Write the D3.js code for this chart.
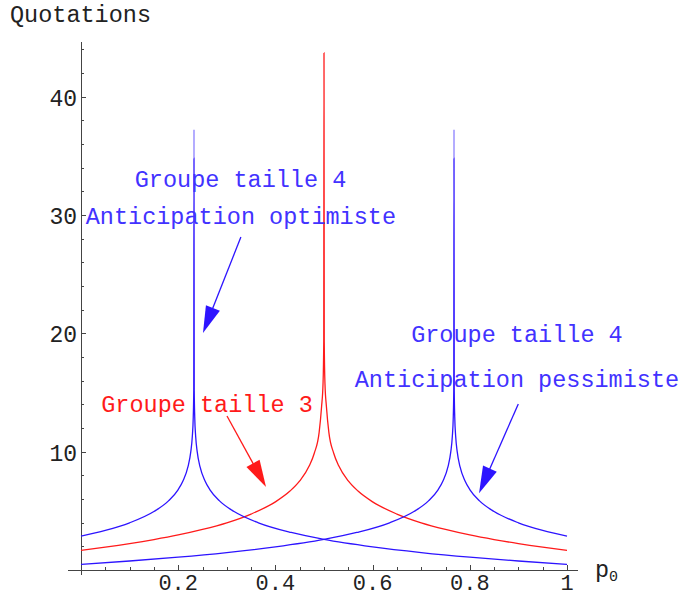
<!DOCTYPE html>
<html><head><meta charset="utf-8">
<script src="https://cdn.jsdelivr.net/npm/d3@7"></script>
<style>html,body{margin:0;padding:0;background:#fff;}svg{display:block;}</style>
</head><body>
<script>
// ---- data ----
const redP = [0,0.05,0.1,0.15,0.2,0.25,0.3,0.35,0.4,0.43,0.45,0.47,0.48,0.49,0.495,0.498,0.4995,0.5,0.5005,0.502,0.505,0.51,0.52,0.53,0.55,0.57,0.6,0.65,0.7,0.75,0.8,0.85,0.9,0.95,1];
const redQ = [1.66,1.93,2.23,2.57,2.96,3.43,3.99,4.73,5.76,6.67,7.53,8.83,9.87,11.63,13.8,15.74,19.3,43.7,19.3,15.74,13.8,11.63,9.87,8.83,7.53,6.67,5.76,4.73,3.99,3.43,2.96,2.57,2.23,1.93,1.66];

const optP = [0,0.05,0.1,0.15,0.18,0.2,0.21,0.22,0.226,0.229,0.231,0.232,0.2325,0.233,0.234,0.236,0.239,0.245,0.255,0.265,0.285,0.315,0.365,0.4325,0.5,0.6,0.7,0.8,0.9,1];
const optQ = [2.87,3.35,3.99,4.94,5.84,6.80,7.54,8.71,10.02,11.26,12.95,15.15,34.8,15.15,12.95,11.26,10.02,8.71,7.54,6.80,5.84,4.94,3.99,3.17,2.58,1.95,1.47,1.08,0.76,0.48];

const pesP = [0,0.1,0.2,0.3,0.4,0.5,0.5675,0.635,0.685,0.715,0.735,0.745,0.755,0.761,0.764,0.766,0.767,0.7675,0.768,0.769,0.771,0.774,0.78,0.79,0.8,0.82,0.85,0.9,0.95,1];
const pesQ = [0.48,0.76,1.08,1.47,1.95,2.58,3.17,3.99,4.94,5.84,6.80,7.54,8.71,10.02,11.26,12.95,15.15,34.8,15.15,12.95,11.26,10.02,8.71,7.54,6.80,5.84,4.94,3.99,3.35,2.87];

// light tips of the blue spikes
const tipP = [0.2325, 0.7675];
const tipFrom = [34.8, 34.8];
const tipTo = [37.2, 37.2];

const xMajor = [0.2,0.4,0.6,0.8,1];
const xMajorLabels = ["0.2","0.4","0.6","0.8","1"];
const xMinor = [0.05,0.1,0.15,0.25,0.3,0.35,0.45,0.5,0.55,0.65,0.7,0.75,0.85,0.9,0.95];
const yMajor = [10,20,30,40];
const yMajorLabels = ["10","20","30","40"];
const yMinor = [2,4,6,8,12,14,16,18,22,24,26,28,32,34,36,38,42,44];

const labelTexts = ["Groupe taille 4","Anticipation optimiste","Groupe taille 3","Groupe taille 4","Anticipation pessimiste"];
const labelP = [0.3282,0.329,0.2593,0.897,0.897];
const labelQ = [32.37,29.24,13.35,19.27,15.47];
const labelColor = ["blue","blue","red","blue","blue"];

const arrowFromP = [0.329,0.3004,0.8998];
const arrowFromQ = [28.14,13.01,14.03];
const arrowToP = [0.251,0.3807,0.819];
const arrowToQ = [20.03,7.01,6.48];
const arrowColor = ["blue","red","blue"];

// ---- drawing ----
const W = 681, H = 597;
const BLUE = "#2d14ff", BLUE_T = "#4232ff", RED = "#ff1a1a";
const col = c => c === "red" ? RED : BLUE;
const svg = d3.select("body").append("svg").attr("width", W).attr("height", H);
const x = d3.scaleLinear().domain([0,1]).range([81,567]);
const y = d3.scaleLinear().domain([0,40]).range([570,96.7]);
const FONT = "'Liberation Mono', 'DejaVu Sans Mono', monospace";

// axes
const ax = svg.append("g").attr("stroke","#444").attr("stroke-width",1).attr("shape-rendering","crispEdges");
ax.append("line").attr("x1",x(-0.027)).attr("x2",x(1.023)).attr("y1",y(0)+0.5).attr("y2",y(0)+0.5);
ax.append("line").attr("x1",x(0)+0.5).attr("x2",x(0)+0.5).attr("y1",y(44.6)).attr("y2",y(-0.45));
ax.selectAll(".xM").data(xMajor).join("line").attr("x1",d=>Math.round(x(d))+0.5).attr("x2",d=>Math.round(x(d))+0.5).attr("y1",y(0)).attr("y2",y(0)-5);
ax.selectAll(".xm").data(xMinor).join("line").attr("x1",d=>Math.round(x(d))+0.5).attr("x2",d=>Math.round(x(d))+0.5).attr("y1",y(0)).attr("y2",y(0)-3);
ax.selectAll(".yM").data(yMajor).join("line").attr("y1",d=>Math.round(y(d))+0.5).attr("y2",d=>Math.round(y(d))+0.5).attr("x1",x(0)).attr("x2",x(0)+5);
ax.selectAll(".ym").data(yMinor).join("line").attr("y1",d=>Math.round(y(d))+0.5).attr("y2",d=>Math.round(y(d))+0.5).attr("x1",x(0)).attr("x2",x(0)+3);

const tg = svg.append("g").attr("font-family",FONT).attr("fill","#222").attr("font-size","23px");
tg.selectAll(".xl").data(xMajor).join("text").attr("x",d=>x(d)).attr("y",y(0)+20).attr("font-size","22px").attr("text-anchor","middle").text((d,i)=>xMajorLabels[i]);
tg.selectAll(".yl").data(yMajor).join("text").attr("x",x(0)-4).attr("y",d=>y(d)+9).attr("text-anchor","end").text((d,i)=>yMajorLabels[i]);
tg.append("text").attr("x",10).attr("y",22).attr("font-size","23.5px").text("Quotations");
const pl = tg.append("text").attr("x",595).attr("y",577).attr("font-size","23.5px");
pl.append("tspan").text("p");
pl.append("tspan").attr("font-size","15px").attr("dy",4).text("0");

// curves
const line = d3.line().x(d=>x(d[0])).y(d=>y(d[1])).curve(d3.curveMonotoneX);
const cg = svg.append("g").attr("fill","none").attr("stroke-width",1.3);
cg.append("path").attr("d", line(redP.map((p,i)=>[p,redQ[i]]))).attr("stroke",RED);
cg.append("path").attr("d", line(optP.map((p,i)=>[p,optQ[i]]))).attr("stroke",BLUE);
cg.append("path").attr("d", line(pesP.map((p,i)=>[p,pesQ[i]]))).attr("stroke",BLUE);
cg.selectAll(".tip").data(tipP).join("line")
  .attr("x1",d=>x(d)).attr("x2",d=>x(d))
  .attr("y1",(d,i)=>y(tipFrom[i])).attr("y2",(d,i)=>y(tipTo[i]))
  .attr("stroke","#8c80ff").attr("stroke-width",1.3);

// labels
svg.append("g").attr("font-family",FONT).attr("font-size","23.5px").attr("text-anchor","middle")
  .selectAll("text").data(labelTexts).join("text")
  .attr("x",(d,i)=>x(labelP[i])).attr("y",(d,i)=>y(labelQ[i]))
  .attr("fill",(d,i)=>labelColor[i]==="red"?RED:BLUE_T).text(d=>d);

// arrows
const ag = svg.append("g");
arrowFromP.forEach((p,i)=>{
  const x0=x(p), y0=y(arrowFromQ[i]), x1=x(arrowToP[i]), y1=y(arrowToQ[i]);
  const dx=x1-x0, dy=y1-y0, L=Math.hypot(dx,dy), ux=dx/L, uy=dy/L;
  const hl=27, hw=7.5;
  const bx=x1-ux*hl, by=y1-uy*hl;
  const c = col(arrowColor[i]);
  ag.append("line").attr("x1",x0).attr("y1",y0).attr("x2",bx+ux*4).attr("y2",by+uy*4).attr("stroke",c).attr("stroke-width",1.3);
  ag.append("path").attr("d",`M${x1},${y1}L${bx-uy*hw},${by+ux*hw}L${bx+uy*hw},${by-ux*hw}Z`).attr("fill",c);
});
</script>
</body></html>
